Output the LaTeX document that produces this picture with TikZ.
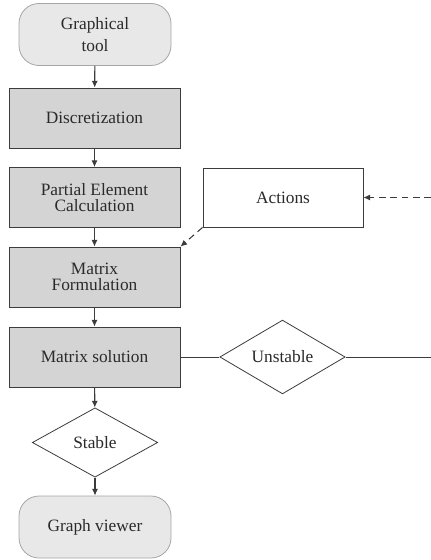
\documentclass[tikz,border=0pt]{standalone}
\usepackage{fontspec}
\setmainfont{Liberation Serif}
\usetikzlibrary{arrows.meta,shapes.geometric}
\definecolor{procfill}{HTML}{D4D4D4}
\definecolor{termfill}{HTML}{E8E8E8}
\definecolor{linec}{HTML}{3C3C3C}
\definecolor{textc}{HTML}{2A2A2A}
\tikzset{
  base/.style={draw=linec, line width=0.6pt, text=textc, align=center, inner sep=1pt, font=\fontsize{13}{12}\selectfont},
  procbox/.style={base, fill=procfill, minimum width=128.25pt, minimum height=45pt},
  termbox/.style={base, fill=termfill, draw=gray!70, rounded corners=15pt, minimum width=114pt, minimum height=46.5pt},
  actbox/.style={base, fill=white, minimum width=120pt, minimum height=44.25pt},
  decbox/.style={base, diamond, fill=white, minimum width=94pt, minimum height=52pt, inner sep=0pt},
  flow/.style={draw=linec, line width=0.8pt, -{Latex[length=5pt,width=4.5pt]}},
  plain/.style={draw=linec, line width=0.7pt},
  dflow/.style={flow, dash pattern=on 5pt off 3.5pt}
}
\begin{document}
\begin{tikzpicture}[x=0.75pt, y=-0.75pt]
\useasboundingbox (0,0) rectangle (431,560);
\node[termbox] (gt) at (95,34.5) {Graphical\\[4pt]tool};
\node[procbox] (disc) at (94.5,118) {Discretization};
\node[procbox] (pec) at (94.5,197.5) {Partial Element\\Calculation};
\node[procbox] (mf) at (94.5,277) {Matrix\\Formulation};
\node[procbox] (ms) at (94.5,357) {Matrix solution};
\node[actbox] (act) at (283,197.5) {Actions};
\node[decbox] (uns) at (282.5,357) {Unstable};
\node[decbox] (stb) at (95,442.5) {Stable};
\node[termbox] (gv) at (95,527) {Graph viewer};
\coordinate (rin) at (431,197.5);
\coordinate (rout) at (431,357);
\draw[flow] (gt) -- (disc);
\draw[flow] (disc) -- (pec);
\draw[flow] (pec) -- (mf);
\draw[flow] (mf) -- (ms);
\draw[flow] (ms) -- (stb);
\draw[flow] (stb) -- (gv);
\draw[plain] (ms) -- (uns);
\draw[plain] (uns) -- (rout);
\draw[dflow] (rin) -- (act);
\draw[dflow] (act.south west) -- (mf.north east);
\end{tikzpicture}
\end{document}
